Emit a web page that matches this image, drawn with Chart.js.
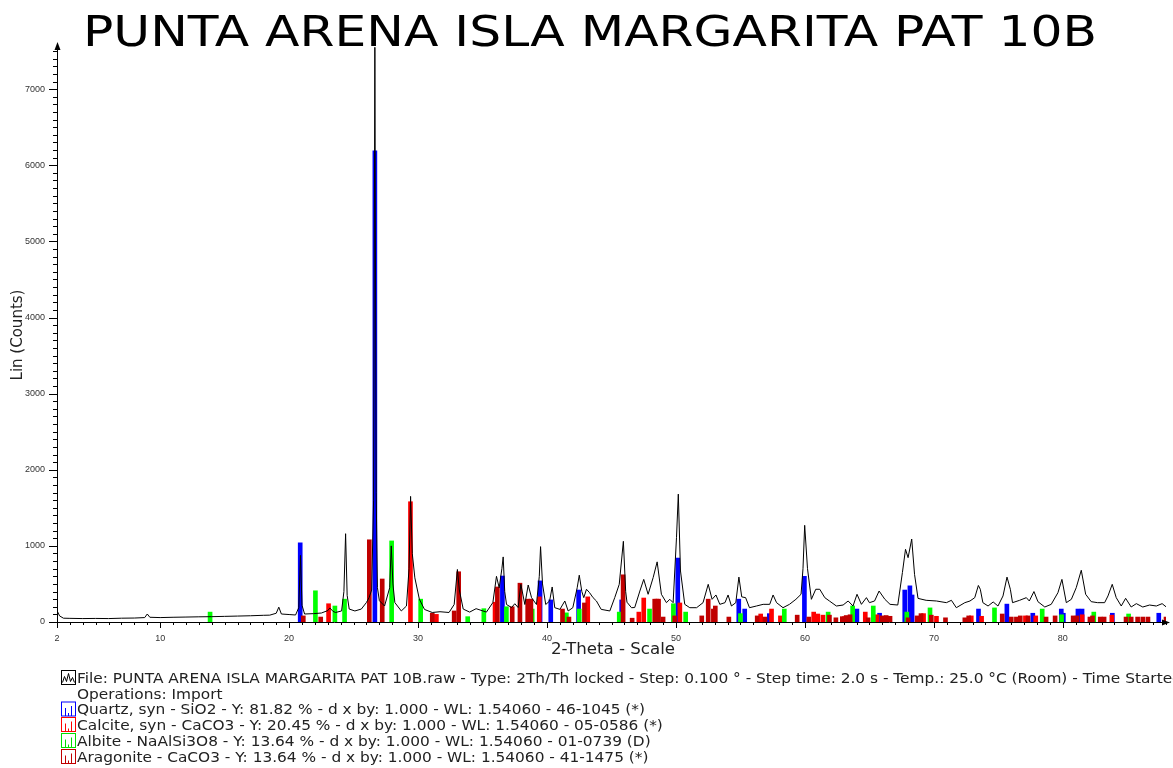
<!DOCTYPE html>
<html>
<head>
<meta charset="utf-8">
<script src="https://cdn.jsdelivr.net/npm/chart.js@4.4.1/dist/chart.umd.min.js"></script>
<style>
  html, body { margin: 0; padding: 0; background: #fff; }
  canvas { display: block; }
</style>
</head>
<body>
<canvas id="xrd" width="1173" height="768"></canvas>
<script>
// ---- raw scan (2-Theta, Lin counts) ----
const scanTheta = [2.0,2.2,2.5,3,4,5,6,7,8,8.8,9.0,9.2,10,11,12,13,14,15,16,17,18,18.5,19.0,19.2,19.4,20,20.5,20.75,20.88,21.0,21.2,21.9,22.5,23.0,23.16,23.4,23.6,24.07,24.25,24.38,24.5,24.66,25.1,25.6,25.99,26.2,26.4,26.55,26.65,26.75,26.85,27.0,27.4,27.8,27.92,28.05,28.2,28.7,29.1,29.3,29.42,29.55,29.75,30.1,30.5,31.1,31.7,32.4,32.8,33.05,33.2,33.5,34.0,34.5,35.3,35.8,36.08,36.29,36.5,36.6,36.72,36.86,37.25,37.5,37.76,37.97,38.28,38.54,38.8,39.18,39.4,39.5,39.65,39.9,40.2,40.4,40.6,41.0,41.38,41.64,42.0,42.34,42.5,42.7,42.85,43.06,43.3,43.57,43.83,44.2,44.87,45.25,45.6,45.92,46.1,46.2,46.55,46.8,47.2,47.5,47.84,48.23,48.54,48.87,49.26,49.52,49.78,50.04,50.18,50.35,50.68,51.07,51.6,52.1,52.5,52.8,53.1,53.4,53.8,54.04,54.3,54.64,54.88,55.1,55.4,55.7,56.24,56.76,57.27,57.53,57.8,58.3,58.8,59.3,59.7,59.85,59.98,60.2,60.5,60.84,61.15,61.54,61.9,62.44,62.96,63.35,63.73,64.04,64.38,64.77,65.0,65.4,65.75,66.2,66.6,67.2,67.56,67.8,68.0,68.28,68.5,68.77,69.4,70.2,70.97,71.36,71.74,72.4,72.8,73.17,73.45,73.6,73.8,74.2,74.6,74.97,75.36,75.67,75.93,76.1,76.65,77.17,77.4,77.76,78.07,78.6,79.1,79.62,79.93,80.27,80.66,81.04,81.43,81.77,82.2,82.7,83.24,83.5,83.83,84.14,84.53,84.87,85.3,85.7,86.2,86.73,87.25,87.7,88.0];
const scanCounts = [150,80,50,48,45,47,45,50,52,58,105,62,58,62,65,68,70,74,78,82,88,90,115,195,105,98,92,190,875,220,105,110,118,150,185,140,125,145,400,1160,350,170,145,170,255,320,420,1600,7550,1700,450,280,210,450,1000,500,255,145,210,700,1650,900,580,300,165,125,135,125,230,690,420,170,130,175,130,255,600,450,700,855,400,230,190,240,190,495,230,486,320,230,600,990,500,230,276,460,188,166,276,145,188,450,615,400,320,430,385,320,276,166,145,320,495,1060,400,260,188,190,407,560,364,583,790,364,254,298,254,1108,1680,670,232,188,188,254,495,298,355,232,254,355,210,254,590,330,320,188,210,232,232,355,254,188,232,298,364,700,1270,700,298,430,430,320,276,210,223,276,210,364,232,320,254,276,407,298,232,223,650,955,845,1090,626,310,285,276,254,285,188,254,276,320,480,430,254,210,263,210,342,590,430,254,285,320,276,400,267,197,232,385,560,254,298,451,680,364,267,254,254,342,495,320,210,311,197,241,197,223,210,241,200];

// ---- stick patterns (2-Theta, counts) ----
const quartzTheta = [20.86,26.65,36.54,39.46,40.29,42.45,45.79,50.14,54.87,55.33,57.24,59.96,64.03,65.79,67.74,68.14,68.31,73.46,75.66,77.67,79.88,80.04,81.17,81.49,83.84,87.44];
const quartzCounts = [1040,6190,604,540,290,420,290,840,300,170,110,600,170,115,420,475,355,170,235,115,170,115,170,170,115,115];

const calciteTheta = [23.06,29.41,31.42,35.97,39.4,43.16,47.12,47.5,48.51,50.3,56.57,57.41,58.1,60.68,61.0,61.4,63.06,64.68,65.6,69.2,70.2,72.9,73.7,77.1,77.9,81.5,83.8];
const calciteCounts = [240,1580,100,260,330,330,130,315,300,250,105,170,80,130,105,90,70,130,95,110,75,80,75,80,80,95,90];

const albiteTheta = [13.87,22.04,23.55,24.3,27.95,30.2,33.85,35.1,36.85,38.85,41.5,42.5,45.6,47.95,49.8,50.75,55.0,58.4,61.8,63.7,65.3,67.9,69.7,74.7,78.4,79.9,82.4,85.1];
const albiteCounts = [130,410,210,300,1065,300,70,175,200,170,120,170,130,170,240,130,110,170,130,210,210,130,185,185,170,95,130,105];

const aragoniteTheta = [21.1,22.45,26.22,27.22,31.1,32.8,33.15,36.15,37.3,37.9,38.5,38.75,41.2,41.7,42.9,45.9,46.6,48.35,48.65,49.0,49.9,52.0,52.5,52.9,53.05,54.1,56.3,56.9,59.4,60.3,61.9,62.4,62.9,63.2,63.5,64.9,66.0,66.3,66.6,68.0,68.7,69.0,69.8,70.9,72.4,72.7,75.3,76.0,76.4,76.7,77.3,78.7,79.4,80.8,81.1,82.1,82.3,82.9,83.2,84.9,85.3,85.8,86.2,86.6,88.0];
const aragoniteCounts = [80,65,1080,565,115,145,660,460,200,510,300,300,170,65,250,620,50,300,300,65,80,80,300,170,210,65,80,65,90,65,90,55,70,85,95,55,80,85,75,55,80,110,90,55,55,80,105,65,65,80,80,65,80,80,80,65,80,65,65,65,65,65,65,65,65];

// ---- axis ticks ----
const xTickLabels = [2,10,20,30,40,50,60,70,80];
const yTickLabels = [0,1000,2000,3000,4000,5000,6000,7000];

const titleText = 'PUNTA ARENA ISLA MARGARITA PAT 10B';
const legendLines = [
  { icon: 'scan', color: '#000', text: 'File: PUNTA ARENA ISLA MARGARITA PAT 10B.raw - Type: 2Th/Th locked - Step: 0.100 ° - Step time: 2.0 s - Temp.: 25.0 °C (Room) - Time Started: 0 s' },
  { icon: null, color: null, text: 'Operations: Import' },
  { icon: 'stick', color: '#0000ff', text: 'Quartz, syn - SiO2 - Y: 81.82 % - d x by: 1.000 - WL: 1.54060 - 46-1045 (*)' },
  { icon: 'stick', color: '#ff0000', text: 'Calcite, syn - CaCO3 - Y: 20.45 % - d x by: 1.000 - WL: 1.54060 - 05-0586 (*)' },
  { icon: 'stick', color: '#00e000', text: 'Albite - NaAlSi3O8 - Y: 13.64 % - d x by: 1.000 - WL: 1.54060 - 01-0739 (D)' },
  { icon: 'stick', color: '#c00000', text: 'Aragonite - CaCO3 - Y: 13.64 % - d x by: 1.000 - WL: 1.54060 - 41-1475 (*)' }
];

function pts(xs, ys) { return xs.map((x, i) => ({ x: x, y: ys[i] })); }

function stickSet(label, xs, ys, color, order) {
  return {
    label: label,
    data: pts(xs, ys),
    backgroundColor: color,
    borderWidth: 0,
    barThickness: 4,
    grouped: false,
    order: order
  };
}

// text squeezed/stretched horizontally to a given width
function wideText(ctx, text, x, y, width, align) {
  const w = ctx.measureText(text).width;
  const sx = width / w;
  ctx.save();
  ctx.translate(x, y);
  ctx.scale(sx, 1);
  ctx.textAlign = align;
  ctx.fillText(text, 0, 0);
  ctx.restore();
}

//draws title, axis names, tick marks, arrows and the bottom legend
const decor = {
  id: 'decor',
  afterDraw(chart) {
    const ctx = chart.ctx;
    const xs = chart.scales.x, ys = chart.scales.y;
    const left = xs.left, bottom = ys.bottom, top = ys.top, right = xs.right;
    ctx.save();

    // title
    ctx.fillStyle = '#000';
    ctx.font = '42px "DejaVu Sans"';
    ctx.textBaseline = 'alphabetic';
    wideText(ctx, titleText, 590, 46, 1014, 'center');

    // tick marks
    ctx.strokeStyle = '#000';
    ctx.lineWidth = 1;
    ctx.beginPath();
    for (let v = 2; v <= 88; v++) {
      const px = Math.round(xs.getPixelForValue(v)) + 0.5;
      const len = (v % 10 === 0 || v === 2) ? 6 : 3;
      ctx.moveTo(px, bottom);
      ctx.lineTo(px, bottom + len);
    }
    for (let v = 0; v <= 7500; v += 100) {
      const py = Math.round(ys.getPixelForValue(v)) + 0.5;
      const len = (v % 1000 === 0) ? 8 : 4;
      ctx.moveTo(left - len, py);
      ctx.lineTo(left, py);
    }
    ctx.moveTo(right, bottom + 0.5);
    ctx.lineTo(right + 3, bottom + 0.5);
    ctx.stroke();

    // arrows
    ctx.fillStyle = '#000';
    ctx.beginPath();
    ctx.moveTo(left + 0.5, top - 3);
    ctx.lineTo(left - 2.5, top + 5);
    ctx.lineTo(left + 3.5, top + 5);
    ctx.closePath();
    ctx.fill();
    ctx.beginPath();
    ctx.moveTo(right + 4, bottom + 0.5);
    ctx.lineTo(right - 4, bottom - 2.5);
    ctx.lineTo(right - 4, bottom + 3.5);
    ctx.closePath();
    ctx.fill();

    // axis titles
    ctx.fillStyle = '#222';
    ctx.font = '15px "DejaVu Sans"';
    ctx.textBaseline = 'middle';
    wideText(ctx, '2-Theta - Scale', 613, 650, 124, 'center');
    ctx.save();
    ctx.translate(18, 335);
    ctx.rotate(-Math.PI / 2);
    ctx.textAlign = 'center';
    ctx.fillText('Lin (Counts)', 0, 0);
    ctx.restore();

    // legend
    ctx.font = '14px "DejaVu Sans"';
    ctx.textBaseline = 'middle';
    const sx = 568 / ctx.measureText(legendLines[2].text).width;
    const rowY = [679, 695, 710.5, 726, 742, 758];
    legendLines.forEach((l, i) => {
      const cy = rowY[i];
      if (l.icon) {
        const bx = 61.5, by = cy - 8.5;
        ctx.strokeStyle = l.color;
        ctx.lineWidth = 1;
        ctx.strokeRect(bx, by, 14, 14);
        ctx.beginPath();
        if (l.icon === 'scan') {
          ctx.moveTo(bx + 1, by + 12);
          ctx.lineTo(bx + 3, by + 6);
          ctx.lineTo(bx + 5, by + 11);
          ctx.lineTo(bx + 7, by + 3);
          ctx.lineTo(bx + 9, by + 11);
          ctx.lineTo(bx + 11, by + 7);
          ctx.lineTo(bx + 13, by + 12);
        } else {
          ctx.moveTo(bx + 4, by + 14); ctx.lineTo(bx + 4, by + 6);
          ctx.moveTo(bx + 7, by + 14); ctx.lineTo(bx + 7, by + 11);
          ctx.moveTo(bx + 10, by + 14); ctx.lineTo(bx + 10, by + 4);
        }
        ctx.stroke();
      }
      ctx.fillStyle = '#222';
      ctx.save();
      ctx.translate(77, cy);
      ctx.scale(sx, 1);
      ctx.textAlign = 'left';
      ctx.fillText(l.text, 0, 0);
      ctx.restore();
    });
    ctx.restore();
  }
};

new Chart(document.getElementById('xrd'), {
  type: 'bar',
  data: {
    datasets: [
      {
        type: 'line',
        label: 'Scan',
        data: pts(scanTheta, scanCounts),
        borderColor: '#000',
        borderWidth: 1,
        pointRadius: 0,
        tension: 0,
        fill: false,
        order: 0
      },
      stickSet('Aragonite', aragoniteTheta, aragoniteCounts, '#c00000', 1),
      stickSet('Albite', albiteTheta, albiteCounts, '#00ff00', 2),
      stickSet('Calcite', calciteTheta, calciteCounts, '#ff0000', 3),
      stickSet('Quartz', quartzTheta, quartzCounts, '#0000ff', 4)
    ]
  },
  options: {
    responsive: false,
    animation: false,
    layout: { padding: { left: 0, right: 7, top: 45, bottom: 0 } },
    plugins: {
      legend: { display: false },
      tooltip: { enabled: false }
    },
    scales: {
      x: {
        type: 'linear',
        min: 2,
        max: 88,
        offset: false,
        grid: { display: false },
        border: { display: true, color: '#000', width: 1 },
        afterBuildTicks: s => { s.ticks = xTickLabels.map(v => ({ value: v })); },
        afterFit: s => { s.height = 146; },
        ticks: {
          autoSkip: false,
          maxRotation: 0,
          padding: 3,
          color: '#333',
          font: { family: 'Liberation Sans', size: 9 },
          callback: v => String(v)
        }
      },
      y: {
        min: 0,
        max: 7580,
        grid: { display: false },
        border: { display: true, color: '#000', width: 1 },
        afterBuildTicks: s => { s.ticks = yTickLabels.map(v => ({ value: v })); },
        afterFit: s => { s.width = 57; },
        ticks: {
          autoSkip: false,
          padding: 4,
          color: '#333',
          font: { family: 'Liberation Sans', size: 9 },
          callback: v => String(v)
        }
      }
    }
  },
  plugins: [decor]
});
</script>
</body>
</html>
